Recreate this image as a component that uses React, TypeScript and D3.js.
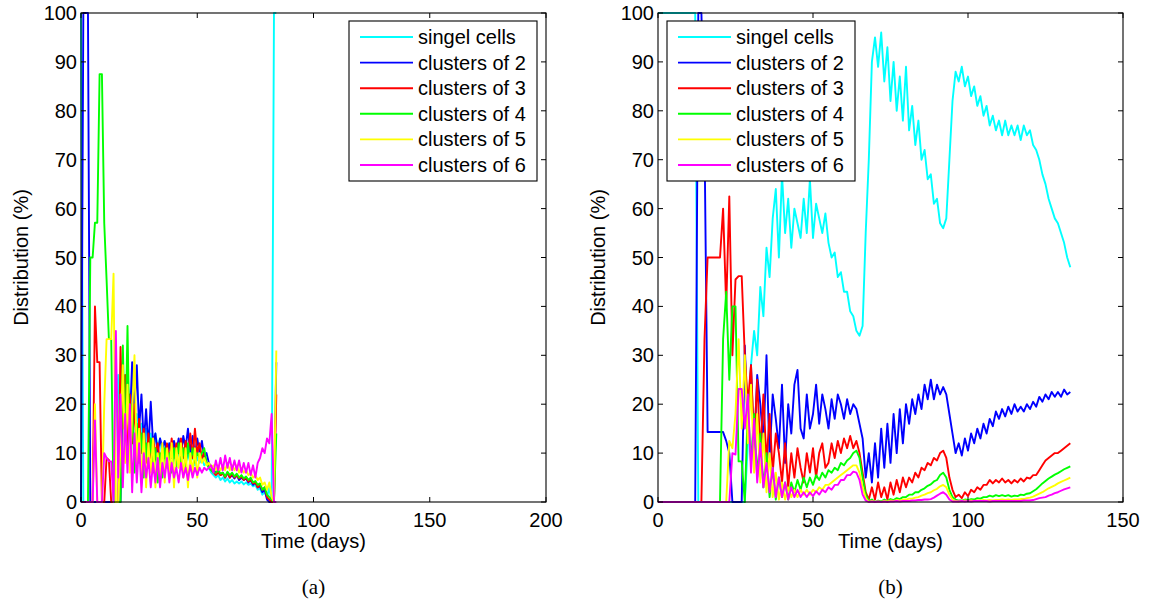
import React from "react";
import * as d3 from "d3";

// ---------- data ----------
const seriesNames = [
  "singel cells",
  "clusters of 2",
  "clusters of 3",
  "clusters of 4",
  "clusters of 5",
  "clusters of 6",
];
const seriesColors = ["#00ffff", "#0000ff", "#ff0000", "#00ff00", "#ffff00", "#ff00ff"];

const yTicks = [0, 10, 20, 30, 40, 50, 60, 70, 80, 90, 100];
const xTicksA = [0, 50, 100, 150, 200];
const xTicksB = [0, 50, 100, 150];

// sample days (one sample per day)
const daysA = d3.range(0, 85);
const daysB = d3.range(0, 134);

// ----- panel (a) -----
const cyanA = [100, 0, 0, 0, 0, 0, 0, 0, 0, 0, 0, 0, 0, 0, 0,
  18, 26, 12, 24, 10, 22, 14, 20, 9, 18, 11, 16, 8, 15, 10, 14, 9, 14, 11, 13,
  9, 12, 10, 12, 9, 11, 8, 11, 9, 10, 8, 10, 8, 9.5, 7.5, 9, 8, 9, 7.5, 8,
  7, 6, 5.5, 5, 5.5, 4.5, 5, 4.2, 4.8, 4, 4.5, 3.8, 4.2, 3.8, 4.2, 3.6, 4, 3.5, 3.8, 3.2,
  3.5, 2.5, 2.8, 1.5, 2, 1, 3, 0, 100, 100];
const blueA = [0, 100, 100, 100, 0,
  0, 0, 0, 0, 0, 0, 0, 0, 0, 0, 0, 0, 0,
  22, 14, 26, 16, 28.6, 18, 28, 15, 22, 12, 19, 11, 20.5, 12, 14, 10, 13, 11, 12.5, 10,
  12, 9, 12.5, 10, 13, 9.5, 13.5, 11, 15, 10, 13.5, 9.5, 13, 10, 12.5, 9, 10, 8, 7, 6.5,
  6, 6.5, 5.5, 6, 5, 6, 5, 5.5, 4.8, 5.5, 4.5, 5, 4.5, 4.8, 4, 4.5, 3.5, 4, 3, 3.2,
  2, 2.5, 0.5, 0, 0, 0, 28.6];
const redA = [0, 0, 0, 0, 0, 0,
  40, 28.6, 28.6, 0, 0, 9, 8.6, 0, 0, 0, 0,
  31.7, 15, 26, 10, 22, 12, 20, 9, 17, 10, 15, 8, 14, 9, 13, 10, 12, 8, 11, 9,
  12, 8, 13, 9, 12, 10, 13, 9, 12.5, 10, 14, 9, 15, 10, 12, 9, 10, 8, 7.5, 6.5,
  6, 5.5, 6, 5.5, 5.8, 5, 6, 5, 5.8, 5, 5.5, 4.8, 5.2, 4.5, 5, 4.2, 4.5, 3.8, 4, 3,
  3.5, 2.5, 3, 1, 0.5, 0, 0, 22];
const greenA = [0, 0, 0, 0,
  50, 50, 57.1, 57.1, 87.5, 87.5, 57, 45.5, 33.3, 33.3, 0, 0, 0, 0,
  32, 10, 36, 8, 20, 6, 16, 8, 14, 5, 12, 7, 13, 6, 11, 4, 10, 5, 11, 7,
  10, 6, 11, 7, 12, 8, 11, 7, 12, 8, 11, 8, 10, 9, 10, 11, 8, 7, 6.5, 6,
  6, 6.5, 5.8, 6, 5.2, 6.2, 5.5, 6, 5.2, 5.8, 5, 5.5, 4.8, 5.2, 4.5, 5, 4, 4.3, 3.5, 3.8,
  2.5, 3, 1.5, 1, 0.5, 0, 14];
const yellowA = [0, 0, 0, 0, 0, 0,
  20, 0, 0, 0, 20, 33.3, 33.3, 33.3, 46.7, 0, 0,
  12, 28, 8, 24, 6, 18, 30, 8, 15, 4, 14, 3, 12, 6, 13, 3, 10, 5, 12, 4,
  11, 6, 12, 3, 11, 7, 12, 5, 11, 3, 10, 6, 11, 5, 10, 8, 9, 7.5, 8, 7,
  7.5, 6.5, 7.5, 6.5, 7.5, 6.5, 8, 6.5, 7.5, 6.5, 7.5, 6, 7, 6, 6.5, 5.5, 6, 5, 5.5, 4.5,
  5, 3.5, 4, 2.5, 4, 1, 0, 31];
const magentaA = [0, 0, 0, 0, 0, 0,
  16.7, 0, 0, 0, 10, 9, 8.3, 8.3, 0,
  35, 5, 22, 3, 18, 6, 20, 2, 14, 4, 12, 2, 10, 5, 9, 3, 8, 4, 9, 3,
  8, 5, 9, 4, 8, 5, 7, 4, 8, 5, 7, 4.5, 7.5, 5, 7, 5.5, 7, 6, 7, 6.5,
  7, 7.5, 6, 8.5, 6.5, 9, 6.5, 9.5, 7, 9, 6.5, 8.5, 6.5, 8.5, 6, 8, 6, 8, 5.5, 7.5,
  5, 8, 9, 11, 10, 13, 12, 18, 0, 0];

// ----- panel (b) -----
const cyanB = [100, 100, 100, 100, 100, 100, 100, 100, 100, 100, 100, 100, 100,
  0, 0, 0, 0, 0, 0, 0, 0, 0, 0, 0, 0, 0, 0, 0, 0,
  12, 28, 35, 30, 44, 38, 52, 46, 58, 64, 50, 67, 55, 62, 52, 60, 57, 54, 62, 55,
  66, 54, 61, 58, 55, 59, 53, 50, 51, 46, 47, 43, 43, 39, 38, 35, 34, 36, 55, 70,
  90, 95, 89, 96, 86, 93, 82, 90, 80, 87, 78, 89, 76, 81, 73, 78, 70, 72, 66, 67,
  61, 62, 57, 56, 58, 70, 82, 88, 86, 89, 85, 87, 83, 85, 81, 83, 79, 81, 77, 79,
  76, 78, 75, 78, 75, 77, 75, 77, 74, 77, 75, 76, 73, 72, 70, 67, 65, 62, 60, 58,
  57, 55, 53, 50, 48];
const blueB = [0, 0, 0, 0, 0, 0, 0, 0, 0, 0, 0, 0, 0,
  100, 100, 75, 14.3, 14.3, 14.3, 14.3, 14.3, 14.3, 12.5, 10, 0, 0, 0, 0,
  32, 14, 28, 10, 26, 20, 12, 30, 9, 22, 17, 11, 24, 8, 20, 14, 24, 27, 15, 13,
  22, 15, 18, 24, 16, 22, 19, 15, 21, 17, 22, 20, 17, 21, 18, 20, 19, 16, 13, 5,
  10, 4, 12, 5, 15, 7, 16, 8, 18, 10, 19, 12, 20, 16, 21, 18, 22, 19, 24, 21,
  25, 21, 24, 22, 23.5, 22, 18, 14, 10, 12, 9.5, 13, 10.5, 14, 12, 15, 13, 16, 14, 17,
  15.5, 18.5, 17, 19, 17.5, 19.5, 18, 20, 18.5, 19.5, 18.5, 20, 19, 20.5, 19.5, 21.5, 20.5, 22, 21, 22.5,
  21.5, 22.5, 21.5, 23, 22, 22.5];
const redB = [0, 0, 0, 0, 0, 0, 0, 0, 0, 0, 0, 0, 0, 0, 0,
  33.3, 50, 50, 50, 50, 50, 60, 40, 62.5, 30, 45.5, 46.2, 46.2, 30, 20, 28, 12, 25, 10, 22,
  8, 18, 6, 14, 10, 4, 12, 3, 10, 5, 11, 7, 4, 10, 6, 11, 5, 10, 12, 7,
  8, 12, 9, 12.5, 10, 13, 11, 13.5, 11, 12.5, 10, 6, 2, 0.5, 3, 0.5, 4, 1, 3, 0.5,
  4, 1.5, 4.5, 2, 5, 3, 5, 4, 6, 5, 7, 6.5, 8, 7.5, 9, 8.5, 10, 10.5, 9, 5,
  2.5, 1, 1.5, 0.8, 2, 1.2, 2.5, 2, 3, 2.5, 3.5, 3.5, 4.5, 3.8, 4.5, 4, 4.8, 4, 4.5, 3.8,
  4.5, 4, 4.8, 4.2, 5, 4.8, 5.5, 5.5, 6.5, 7.5, 8.5, 9, 9.5, 10, 10, 10.5, 11, 11.5, 12];
const greenB = [0, 0, 0, 0, 0, 0, 0, 0, 0, 0, 0, 0, 0, 0, 0, 0, 0, 0, 0, 0, 0,
  33.3, 43, 25, 40, 40, 8.3, 8.3, 0, 20, 8, 18, 5, 14, 3, 10, 1, 7, 0.5, 5, 1,
  4, 0.5, 4, 2, 4.5, 2.5, 5, 3, 5, 3.5, 5.5, 4.5, 6, 5, 6.5, 6, 7, 6.5, 8, 7.5,
  8.5, 9, 10, 10.5, 9, 5, 1.5, 0.2, 0.5, 0, 0.3, 0.1, 0.5, 0.2, 0.6, 0.4, 0.8, 0.6, 1, 1,
  1.5, 1.5, 2, 2, 2.5, 2.8, 3.3, 3.6, 4.2, 4.5, 5.5, 6, 5, 2.5, 1, 0.5, 0.3, 0.3, 0.5, 0.4,
  0.6, 0.5, 0.8, 0.7, 1, 1, 1.3, 1.1, 1.4, 1.2, 1.4, 1.2, 1.4, 1.1, 1.3, 1.2, 1.5, 1.4, 1.7, 1.8,
  2.2, 2.6, 3.2, 3.8, 4.3, 4.8, 5.2, 5.6, 5.9, 6.3, 6.7, 7, 7.3];
const yellowB = [0, 0, 0, 0, 0, 0, 0, 0, 0, 0, 0, 0, 0, 0, 0, 0, 0, 0, 0, 0, 0, 0, 0,
  12.5, 11, 18, 33.3, 15, 30, 12, 24, 6, 18, 4, 14, 2, 10, 1, 6, 0.5, 4, 0.5, 3,
  1, 2.5, 1, 2.5, 1.5, 2.5, 1.5, 2.5, 2, 3, 2.5, 3.5, 3.5, 4, 4.5, 5, 5.5, 6, 6.5, 7,
  7.5, 7.5, 6, 3, 0.8, 0, 0.2, 0, 0.1, 0, 0.2, 0.1, 0.3, 0.2, 0.4, 0.3, 0.5, 0.5, 0.7, 0.7,
  0.9, 1, 1.3, 1.5, 1.8, 2, 2.4, 2.7, 3.2, 3.5, 3, 1.5, 0.5, 0.2, 0.1, 0.2, 0.3, 0.2, 0.3, 0.2,
  0.3, 0.3, 0.4, 0.3, 0.4, 0.3, 0.4, 0.4, 0.5, 0.4, 0.5, 0.4, 0.5, 0.5, 0.6, 0.6, 0.8, 0.9, 1.1, 1.4,
  1.7, 2, 2.4, 2.8, 3.1, 3.4, 3.8, 4.1, 4.4, 4.7, 5];
const magentaB = [0, 0, 0, 0, 0, 0, 0, 0, 0, 0, 0, 0, 0, 0, 0, 0, 0, 0, 0, 0, 0, 0, 0, 0,
  10, 9.7, 23.1, 23.1, 15, 22, 6, 17, 4, 12, 3, 8, 2, 7, 1, 5, 1, 4, 0.5, 3,
  1, 2.5, 1, 2, 1, 2, 1.2, 2.2, 1.5, 2.5, 2, 3, 2.5, 3.5, 3.5, 4.5, 4.5, 5.5, 5.5, 6.2,
  6, 4.5, 1.5, 0.3, 0, 0.1, 0, 0.1, 0, 0.1, 0, 0.1, 0.1, 0.2, 0.1, 0.2, 0.2, 0.2, 0.3, 0.3,
  0.4, 0.4, 0.5, 0.5, 0.6, 0.9, 1.3, 1.7, 2, 1.5, 0.5, 0.1, 0.1, 0.1, 0.2, 0.1, 0.2, 0.1, 0.2, 0.2,
  0.2, 0.2, 0.2, 0.1, 0.2, 0.2, 0.2, 0.2, 0.2, 0.2, 0.2, 0.2, 0.2, 0.2, 0.3, 0.3, 0.3, 0.4, 0.6, 0.8,
  0.9, 1, 1.3, 1.5, 1.8, 2, 2.3, 2.6, 2.8, 3];

const seriesA = [cyanA, blueA, redA, greenA, yellowA, magentaA];
const seriesB = [cyanB, blueB, redB, greenB, yellowB, magentaB];

// ---------- drawing ----------
const FONT = "'Liberation Sans', Arial, Helvetica, sans-serif";
const TOP = 13;
const BOTTOM = 502;
const TICK = 5;

type PanelProps = {
  left: number;
  right: number;
  xMax: number;
  xTicks: number[];
  days: number[];
  series: number[][];
  legendX: number;
  caption: string;
  ylabelX: number;
};

function Panel({ left, right, xMax, xTicks, days, series, legendX, caption, ylabelX }: PanelProps) {
  const x = d3.scaleLinear().domain([0, xMax]).range([left, right]);
  const y = d3.scaleLinear().domain([0, 100]).range([BOTTOM, TOP]);
  const cx = (left + right) / 2;
  const legendY = 21;
  const rowH = 25.6;

  return (
    <g>
      {/* data lines */}
      {series.map((vals, i) => {
        const line = d3
          .line<number>()
          .x((_, j) => x(days[j]))
          .y((d) => y(d));
        return (
          <path
            key={i}
            d={line(vals) || ""}
            fill="none"
            stroke={seriesColors[i]}
            strokeWidth={1.9}
            strokeLinejoin="round"
          />
        );
      })}

      {/* axes box */}
      <rect x={left} y={TOP} width={right - left} height={BOTTOM - TOP} fill="none" stroke="#000" strokeWidth={1.1} />

      {/* y ticks */}
      {yTicks.map((t) => (
        <g key={"y" + t}>
          <line x1={left} x2={left + TICK} y1={y(t)} y2={y(t)} stroke="#000" strokeWidth={1} />
          <line x1={right} x2={right - TICK} y1={y(t)} y2={y(t)} stroke="#000" strokeWidth={1} />
          <text x={left - 4} y={y(t) + 7} textAnchor="end" fontSize={20} fontFamily={FONT} fill="#000">
            {t}
          </text>
        </g>
      ))}

      {/* x ticks */}
      {xTicks.map((t) => (
        <g key={"x" + t}>
          <line x1={x(t)} x2={x(t)} y1={BOTTOM} y2={BOTTOM - TICK} stroke="#000" strokeWidth={1} />
          <line x1={x(t)} x2={x(t)} y1={TOP} y2={TOP + TICK} stroke="#000" strokeWidth={1} />
          <text x={x(t)} y={527} textAnchor="middle" fontSize={20} fontFamily={FONT} fill="#000">
            {t}
          </text>
        </g>
      ))}

      {/* axis labels */}
      <text x={cx} y={548} textAnchor="middle" fontSize={20} fontFamily={FONT} fill="#000">
        Time (days)
      </text>
      <text
        transform={`translate(${ylabelX},${(TOP + BOTTOM) / 2}) rotate(-90)`}
        textAnchor="middle"
        fontSize={20}
        fontFamily={FONT}
        fill="#000"
      >
        Distribution (%)
      </text>

      {/* legend */}
      <rect x={legendX} y={legendY} width={188} height={160} fill="#fff" stroke="#000" strokeWidth={1.1} />
      {seriesNames.map((name, i) => {
        const ry = 37 + i * rowH;
        return (
          <g key={name}>
            <line x1={legendX + 11} x2={legendX + 64} y1={ry} y2={ry} stroke={seriesColors[i]} strokeWidth={1.9} />
            <text x={legendX + 69} y={ry + 7} fontSize={20} fontFamily={FONT} fill="#000">
              {name}
            </text>
          </g>
        );
      })}

      {/* caption */}
      <text x={cx} y={594} textAnchor="middle" fontSize={21} fontFamily="'Liberation Serif', 'DejaVu Serif', serif" fill="#000">
        {caption}
      </text>
    </g>
  );
}

export default function App() {
  return (
    <svg
      width={1150}
      height={608}
      style={{ position: "absolute", left: 0, top: 0, background: "#fff" }}
    >
      <rect x={0} y={0} width={1150} height={608} fill="#fff" />
      <Panel
        left={81}
        right={546}
        xMax={200}
        xTicks={xTicksA}
        days={daysA}
        series={seriesA}
        legendX={349}
        caption="(a)"
        ylabelX={28}
      />
      <Panel
        left={658}
        right={1123}
        xMax={150}
        xTicks={xTicksB}
        days={daysB}
        series={seriesB}
        legendX={667}
        caption="(b)"
        ylabelX={605}
      />
    </svg>
  );
}
